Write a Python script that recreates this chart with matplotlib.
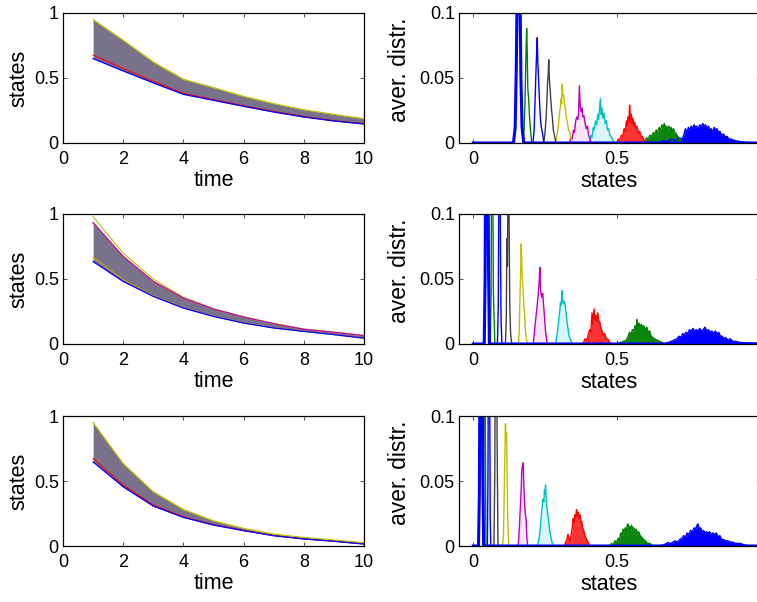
"""Trajectories of states over time and their averaged distributions (3 cases)."""

import matplotlib
matplotlib.use("Agg")
import matplotlib.pyplot as plt
from matplotlib.ticker import FuncFormatter

plt.rcParams["font.family"] = ["Liberation Sans", "DejaVu Sans"]

# ---------------------------------------------------------------- data
times = [1, 2, 3, 4, 5, 6, 7, 8, 9, 10]

# left column: envelope of the bundle of trajectories + a few visible lines
top_upper = [0.949, 0.790, 0.623, 0.490, 0.426, 0.359, 0.303, 0.256, 0.220, 0.187]
top_lower = [0.649, 0.554, 0.462, 0.374, 0.328, 0.282, 0.238, 0.200, 0.169, 0.146]
top_red = [0.676, 0.572, 0.474, 0.382, 0.334, 0.287, 0.243, 0.204, 0.172, 0.149]

mid_upper = [0.933, 0.673, 0.481, 0.353, 0.269, 0.207, 0.156, 0.113, 0.090, 0.064]
mid_lower = [0.634, 0.481, 0.366, 0.276, 0.212, 0.161, 0.123, 0.097, 0.072, 0.045]
mid_yellow = [0.980, 0.698, 0.499, 0.360, 0.272, 0.210, 0.158, 0.115, 0.091, 0.065]
mid_orange = [0.668, 0.495, 0.372, 0.279, 0.214, 0.163, 0.125, 0.098, 0.073, 0.046]

bot_upper = [0.949, 0.634, 0.417, 0.281, 0.194, 0.136, 0.092, 0.066, 0.046, 0.026]
bot_lower = [0.647, 0.455, 0.307, 0.220, 0.161, 0.118, 0.079, 0.054, 0.036, 0.015]
bot_red = [0.673, 0.470, 0.315, 0.225, 0.165, 0.121, 0.081, 0.056, 0.038, 0.017]

# right column: averaged distribution of the states at t = 1 .. 10
hist_top = [
    [(0.650, 0), (0.662, 0.002), (0.675, 0.001), (0.690, 0.003), (0.705, 0.002), (0.718, 0.004),
     (0.728, 0.003), (0.734, 0.006), (0.740, 0.011), (0.745, 0.008), (0.750, 0.012), (0.755, 0.010),
     (0.760, 0.013), (0.765, 0.011), (0.770, 0.014), (0.775, 0.012), (0.780, 0.013), (0.785, 0.011),
     (0.790, 0.014), (0.795, 0.012), (0.800, 0.015), (0.805, 0.013), (0.810, 0.014), (0.815, 0.011),
     (0.820, 0.013), (0.825, 0.010), (0.830, 0.011), (0.835, 0.008), (0.840, 0.012), (0.845, 0.010),
     (0.850, 0.011), (0.855, 0.008), (0.860, 0.009), (0.866, 0.006), (0.872, 0.007), (0.878, 0.005),
     (0.885, 0.005), (0.892, 0.003), (0.900, 0.003), (0.910, 0.002), (0.920, 0.0015), (0.935, 0.001),
     (0.950, 0.0005), (0.960, 0)],
    [(0.598, 0), (0.604, 0.004), (0.610, 0.003), (0.616, 0.006), (0.622, 0.005), (0.628, 0.008),
     (0.633, 0.007), (0.638, 0.010), (0.643, 0.008), (0.648, 0.012), (0.653, 0.010), (0.658, 0.014),
     (0.662, 0.011), (0.666, 0.015), (0.670, 0.012), (0.674, 0.013), (0.678, 0.010), (0.682, 0.013),
     (0.686, 0.011), (0.690, 0.012), (0.694, 0.009), (0.698, 0.011), (0.703, 0.008), (0.708, 0.007),
     (0.713, 0.005), (0.718, 0.004), (0.724, 0.002), (0.730, 0)],
    [(0.500, 0), (0.506, 0.003), (0.511, 0.002), (0.516, 0.006), (0.521, 0.005), (0.526, 0.011),
     (0.530, 0.009), (0.534, 0.017), (0.537, 0.013), (0.540, 0.020), (0.543, 0.016), (0.545, 0.029),
     (0.548, 0.018), (0.551, 0.022), (0.554, 0.015), (0.557, 0.019), (0.560, 0.013), (0.563, 0.016),
     (0.567, 0.011), (0.571, 0.013), (0.575, 0.008), (0.580, 0.009), (0.585, 0.005), (0.590, 0.005),
     (0.596, 0.002), (0.604, 0.001), (0.610, 0)],
    [(0.405, 0), (0.410, 0.006), (0.414, 0.004), (0.418, 0.012), (0.422, 0.010), (0.426, 0.017),
     (0.430, 0.014), (0.434, 0.022), (0.437, 0.018), (0.440, 0.026), (0.443, 0.034), (0.446, 0.022),
     (0.449, 0.027), (0.452, 0.019), (0.456, 0.023), (0.460, 0.015), (0.464, 0.017), (0.468, 0.010),
     (0.472, 0.011), (0.476, 0.006), (0.481, 0.005), (0.487, 0.002), (0.494, 0)],
    [(0.335, 0), (0.340, 0.004), (0.345, 0.003), (0.349, 0.010), (0.353, 0.008), (0.357, 0.017),
     (0.361, 0.020), (0.364, 0.018), (0.367, 0.022), (0.370, 0.044), (0.373, 0.028), (0.376, 0.024),
     (0.379, 0.027), (0.382, 0.020), (0.386, 0.021), (0.390, 0.015), (0.394, 0.011), (0.398, 0.013),
     (0.402, 0.006), (0.406, 0.004), (0.411, 0)],
    [(0.287, 0), (0.292, 0.006), (0.296, 0.012), (0.300, 0.022), (0.303, 0.027), (0.306, 0.034),
     (0.308, 0.030), (0.310, 0.045), (0.312, 0.036), (0.315, 0.037), (0.318, 0.030), (0.321, 0.027),
     (0.324, 0.020), (0.328, 0.016), (0.332, 0.010), (0.336, 0.009), (0.340, 0.004), (0.345, 0)],
    [(0.246, 0), (0.250, 0.008), (0.254, 0.020), (0.257, 0.034), (0.259, 0.047), (0.261, 0.052),
     (0.263, 0.064), (0.265, 0.050), (0.267, 0.044), (0.270, 0.034), (0.273, 0.025), (0.276, 0.019),
     (0.279, 0.010), (0.283, 0.006), (0.288, 0)],
    [(0.208, 0), (0.212, 0.010), (0.215, 0.030), (0.218, 0.052), (0.221, 0.070), (0.223, 0.081),
     (0.225, 0.062), (0.227, 0.052), (0.230, 0.036), (0.233, 0.022), (0.237, 0.012), (0.241, 0.008),
     (0.246, 0)],
    [(0.173, 0), (0.177, 0.010), (0.180, 0.029), (0.183, 0.062), (0.186, 0.088), (0.188, 0.070),
     (0.190, 0.042), (0.193, 0.034), (0.196, 0.020), (0.200, 0.008), (0.204, 0)],
    [(0.0, 0), (0.140, 0), (0.146, 0.012), (0.150, 0.060), (0.154, 0.140), (0.158, 0.180),
     (0.162, 0.130), (0.166, 0.050), (0.170, 0.012), (0.176, 0), (1.0, 0)],
]

hist_mid = [
    [(0.665, 0), (0.678, 0.001), (0.690, 0.002), (0.700, 0.003), (0.710, 0.004), (0.718, 0.006),
     (0.724, 0.005), (0.730, 0.008), (0.736, 0.007), (0.742, 0.009), (0.748, 0.008), (0.754, 0.011),
     (0.760, 0.010), (0.766, 0.012), (0.772, 0.010), (0.778, 0.011), (0.784, 0.010), (0.790, 0.012),
     (0.796, 0.010), (0.802, 0.011), (0.808, 0.013), (0.814, 0.010), (0.820, 0.011), (0.826, 0.009),
     (0.832, 0.010), (0.838, 0.008), (0.844, 0.010), (0.850, 0.008), (0.856, 0.009), (0.862, 0.006),
     (0.868, 0.006), (0.874, 0.004), (0.880, 0.005), (0.888, 0.003), (0.896, 0.004), (0.905, 0.002),
     (0.915, 0.002), (0.930, 0.0012), (0.950, 0.001), (0.970, 0.0008), (0.990, 0.0005)],
    [(0.500, 0), (0.512, 0.001), (0.524, 0.002), (0.534, 0.003), (0.540, 0.006), (0.545, 0.009),
     (0.550, 0.007), (0.555, 0.011), (0.560, 0.010), (0.564, 0.014), (0.568, 0.012), (0.571, 0.019),
     (0.575, 0.013), (0.579, 0.016), (0.583, 0.013), (0.587, 0.015), (0.591, 0.012), (0.595, 0.014),
     (0.600, 0.011), (0.605, 0.013), (0.610, 0.009), (0.615, 0.010), (0.620, 0.006), (0.626, 0.005),
     (0.632, 0.004), (0.640, 0.003), (0.650, 0.002), (0.660, 0.001), (0.670, 0)],
    [(0.376, 0), (0.384, 0.001), (0.390, 0.004), (0.396, 0.003), (0.402, 0.008), (0.406, 0.011),
     (0.410, 0.009), (0.414, 0.024), (0.417, 0.015), (0.421, 0.027), (0.424, 0.019), (0.427, 0.022),
     (0.430, 0.017), (0.434, 0.024), (0.437, 0.018), (0.441, 0.017), (0.445, 0.012), (0.449, 0.010),
     (0.453, 0.007), (0.458, 0.008), (0.463, 0.004), (0.469, 0.004), (0.476, 0.001), (0.484, 0)],
    [(0.287, 0), (0.291, 0.006), (0.295, 0.012), (0.298, 0.019), (0.301, 0.024), (0.304, 0.032),
     (0.307, 0.030), (0.309, 0.041), (0.311, 0.034), (0.314, 0.031), (0.317, 0.033), (0.320, 0.030),
     (0.323, 0.025), (0.326, 0.019), (0.330, 0.012), (0.334, 0.006), (0.338, 0.004), (0.344, 0)],
    [(0.209, 0), (0.213, 0.009), (0.216, 0.016), (0.219, 0.022), (0.222, 0.028), (0.225, 0.035),
     (0.228, 0.042), (0.230, 0.050), (0.232, 0.059), (0.234, 0.044), (0.236, 0.039), (0.239, 0.036),
     (0.242, 0.039), (0.245, 0.030), (0.248, 0.022), (0.251, 0.012), (0.254, 0.006), (0.258, 0)],
    [(0.157, 0), (0.160, 0.009), (0.162, 0.030), (0.165, 0.055), (0.167, 0.077), (0.169, 0.062),
     (0.171, 0.050), (0.173, 0.045), (0.176, 0.030), (0.179, 0.022), (0.182, 0.010), (0.185, 0.004),
     (0.188, 0)],
    [(0.112, 0), (0.115, 0.020), (0.117, 0.081), (0.119, 0.060), (0.121, 0.130), (0.123, 0.150),
     (0.125, 0.090), (0.127, 0.030), (0.130, 0.008), (0.134, 0)],
    [(0.084, 0), (0.087, 0.030), (0.089, 0.120), (0.091, 0.170), (0.093, 0.140), (0.095, 0.060),
     (0.097, 0.015), (0.100, 0)],
    [(0.059, 0), (0.062, 0.040), (0.064, 0.160), (0.066, 0.190), (0.068, 0.120), (0.070, 0.040),
     (0.072, 0.023), (0.075, 0)],
    [(0.0, 0), (0.038, 0), (0.041, 0.050), (0.044, 0.200), (0.047, 0.220), (0.050, 0.180),
     (0.053, 0.060), (0.056, 0), (1.0, 0)],
]

hist_bot = [
    [(0.650, 0), (0.665, 0.001), (0.679, 0.0026), (0.690, 0.002), (0.703, 0.004), (0.712, 0.003),
     (0.720, 0.005), (0.728, 0.006), (0.734, 0.008), (0.740, 0.007), (0.746, 0.010), (0.752, 0.009),
     (0.758, 0.012), (0.764, 0.011), (0.770, 0.014), (0.775, 0.013), (0.780, 0.016), (0.784, 0.017),
     (0.788, 0.013), (0.793, 0.014), (0.798, 0.011), (0.803, 0.012), (0.808, 0.010), (0.813, 0.011),
     (0.818, 0.010), (0.824, 0.011), (0.830, 0.009), (0.836, 0.010), (0.842, 0.009), (0.848, 0.010),
     (0.854, 0.007), (0.860, 0.008), (0.866, 0.005), (0.872, 0.005), (0.880, 0.004), (0.888, 0.004),
     (0.896, 0.003), (0.905, 0.003), (0.915, 0.002), (0.930, 0.002), (0.945, 0.001), (0.960, 0)],
    [(0.476, 0), (0.482, 0.002), (0.488, 0.001), (0.494, 0.004), (0.500, 0.003), (0.505, 0.006),
     (0.510, 0.005), (0.514, 0.010), (0.518, 0.008), (0.522, 0.013), (0.526, 0.011), (0.530, 0.014),
     (0.534, 0.012), (0.537, 0.016), (0.540, 0.017), (0.543, 0.013), (0.546, 0.015), (0.549, 0.012),
     (0.552, 0.016), (0.556, 0.013), (0.560, 0.014), (0.564, 0.011), (0.568, 0.013), (0.572, 0.010),
     (0.577, 0.011), (0.582, 0.008), (0.587, 0.007), (0.593, 0.005), (0.600, 0.004), (0.608, 0.002),
     (0.616, 0.002), (0.627, 0)],
    [(0.318, 0), (0.322, 0.003), (0.326, 0.005), (0.330, 0.009), (0.334, 0.006), (0.338, 0.004),
     (0.342, 0.010), (0.345, 0.014), (0.348, 0.021), (0.351, 0.018), (0.354, 0.024), (0.357, 0.022),
     (0.360, 0.028), (0.363, 0.023), (0.366, 0.026), (0.369, 0.021), (0.372, 0.024), (0.375, 0.018),
     (0.378, 0.019), (0.381, 0.014), (0.385, 0.012), (0.389, 0.008), (0.393, 0.006), (0.398, 0.004),
     (0.404, 0.001), (0.408, 0)],
    [(0.223, 0), (0.227, 0.003), (0.231, 0.008), (0.234, 0.015), (0.237, 0.023), (0.240, 0.030),
     (0.243, 0.036), (0.246, 0.034), (0.248, 0.043), (0.250, 0.040), (0.252, 0.047), (0.254, 0.036),
     (0.256, 0.031), (0.259, 0.025), (0.262, 0.021), (0.265, 0.014), (0.268, 0.010), (0.272, 0.005),
     (0.278, 0)],
    [(0.155, 0), (0.158, 0.004), (0.161, 0.016), (0.164, 0.030), (0.167, 0.044), (0.169, 0.058),
     (0.171, 0.062), (0.174, 0.064), (0.176, 0.048), (0.178, 0.036), (0.181, 0.025), (0.184, 0.021),
     (0.187, 0.005), (0.190, 0)],
    [(0.102, 0), (0.105, 0.008), (0.107, 0.030), (0.109, 0.057), (0.112, 0.094), (0.114, 0.080),
     (0.116, 0.087), (0.118, 0.055), (0.120, 0.020), (0.122, 0.008), (0.124, 0)],
    [(0.072, 0), (0.075, 0.060), (0.077, 0.190), (0.079, 0.200), (0.081, 0.170), (0.083, 0.080),
     (0.086, 0)],
    [(0.049, 0), (0.051, 0.050), (0.053, 0.190), (0.055, 0.200), (0.057, 0.120), (0.059, 0.020),
     (0.061, 0)],
    [(0.034, 0), (0.036, 0.060), (0.038, 0.200), (0.040, 0.190), (0.042, 0.080), (0.044, 0)],
    [(0.0, 0), (0.018, 0), (0.021, 0.040), (0.024, 0.180), (0.027, 0.220), (0.030, 0.200),
     (0.033, 0.060), (0.036, 0), (1.0, 0)],
]

# MATLAB (pre-2014) color order, one colour per time step; last one drawn thick
hist_colors = ["#0000ff", "#008000", "#ff0000", "#00bfbf", "#bf00bf",
               "#bfbf00", "#404040", "#0000ff", "#008000", "#0000ff"]
hist_fill = [1.0, 0.95, 0.8, 0.15, 0.1, 0, 0, 0, 0, 0]

BAND = "#78738a"


def style_axes(ax, xpad):
    ax.tick_params(direction="in", top=True, right=True, length=3, width=0.6,
                   labelsize=13, color="#333333")
    ax.tick_params(axis="x", pad=xpad)
    ax.tick_params(axis="y", pad=3)
    ax.yaxis.set_major_formatter(FuncFormatter(lambda v, _: f"{v:g}"))
    ax.xaxis.set_major_formatter(FuncFormatter(lambda v, _: f"{v:g}"))
    for sp in ax.spines.values():
        sp.set_linewidth(0.9)


def plot_bundle(ax, upper, lower, extras):
    ax.fill_between(times, lower, upper, color=BAND, lw=0)
    for vals, col in extras:
        ax.plot(times, vals, color=col, lw=0.8)
    ax.plot(times, upper, color="#bfbf00", lw=0.9)
    ax.plot(times, lower, color="#0000ff", lw=0.9)
    ax.set_xlim(0, 10)
    ax.set_ylim(0, 1)
    ax.set_xticks([0, 2, 4, 6, 8, 10])
    ax.set_yticks([0, 0.5, 1])
    style_axes(ax, 6)
    ax.set_xlabel("time", fontsize=15.5)
    ax.set_ylabel("states", fontsize=15.5)
    ax.xaxis.set_label_coords(0.5, -0.205)
    ax.yaxis.set_label_coords(-0.112, 0.5)


def plot_hist(ax, series):
    for i, pts in enumerate(series):
        xs = [p[0] for p in pts]
        ys = [p[1] for p in pts]
        lw = 2.2 if i == len(series) - 1 else 1.0
        if hist_fill[i] > 0:
            ax.fill_between(xs, 0, ys, color=hist_colors[i], alpha=hist_fill[i], lw=0)
        ax.plot(xs, ys, color=hist_colors[i], lw=lw)
    ax.set_xlim(-0.05, 1.0)
    ax.set_ylim(0, 0.1)
    # the tick at 1 falls outside the cropped figure
    ax.set_xticks([0, 0.5])
    ax.set_yticks([0, 0.05, 0.1])
    style_axes(ax, 6)
    ax.set_xlabel("states", fontsize=15.5)
    ax.set_ylabel("aver. distr.", fontsize=16.5)
    ax.xaxis.set_label_coords(0.5, -0.215)
    ax.yaxis.set_label_coords(-0.16, 0.56)


fig = plt.figure(figsize=(7.57, 6.02), dpi=100)
rows = [0.7625, 0.4286, 0.0930]
h = 130 / 602
w = 301 / 757

ax = fig.add_axes([63 / 757, rows[0], w, h])
plot_bundle(ax, top_upper, top_lower, [(top_red, "#ff0000")])
ax = fig.add_axes([459 / 757, rows[0], w, h])
plot_hist(ax, hist_top)

ax = fig.add_axes([63 / 757, rows[1], w, h])
plot_bundle(ax, mid_upper, mid_lower, [(mid_orange, "#d0a000"), (mid_yellow, "#bfbf00")])
ax.plot(times, mid_upper, color="#bf00bf", lw=0.9)
ax = fig.add_axes([459 / 757, rows[1], w, h])
plot_hist(ax, hist_mid)

ax = fig.add_axes([63 / 757, rows[2], w, h])
plot_bundle(ax, bot_upper, bot_lower, [(bot_red, "#ff0000")])
ax = fig.add_axes([459 / 757, rows[2], w, h])
plot_hist(ax, hist_bot)

fig.savefig("out.png", dpi=100)
